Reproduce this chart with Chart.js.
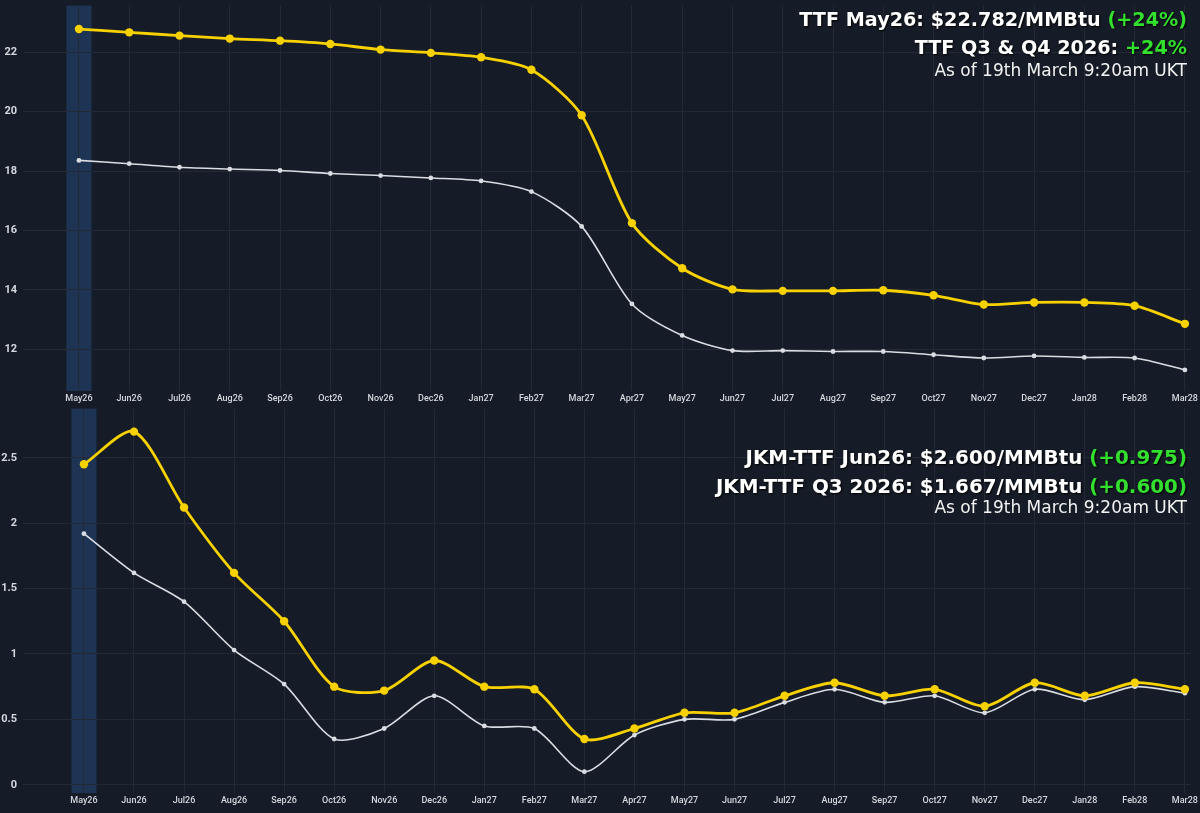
<!DOCTYPE html>
<html>
<head>
<meta charset="utf-8">
<script src="https://cdn.jsdelivr.net/npm/chart.js@4.4.1/dist/chart.umd.min.js"></script>
<style>
  html, body { margin: 0; padding: 0; background: #161c27; }
  #wrap { position: relative; width: 1200px; height: 813px; overflow: hidden; background: #161c27; }
  canvas { position: absolute; left: 0; }
  #c_ttf { top: -7px; }
  #c_spread { top: 396px; }
  .note { position: absolute; right: 13px; line-height: 1; white-space: nowrap; color: #fff;
          font-family: "DejaVu Sans", sans-serif; text-align: right; }
  .big { font-size: 19.2px; font-weight: bold; text-shadow: 1px 1px 2px #000; }
  .big2 { font-size: 19.9px; font-weight: bold; text-shadow: 1px 1px 2px #000; }
  .small { font-size: 17px; font-weight: normal; color: #f2f2f2; }
  .up { color: #33df2f; }
</style>
</head>
<body>
<div id="wrap">
  <canvas id="c_ttf" width="1200" height="412"></canvas>
  <canvas id="c_spread" width="1200" height="417"></canvas>

  <div class="note big" style="top:10px">TTF May26: $22.782/MMBtu <span class="up">(+24%)</span></div>
  <div class="note big" style="top:38px">TTF Q3 &amp; Q4 2026: <span class="up">+24%</span></div>
  <div class="note small" style="top:62px">As of 19th March 9:20am UKT</div>

  <div class="note big2" style="top:448px">JKM-TTF Jun26: $2.600/MMBtu <span class="up">(+0.975)</span></div>
  <div class="note big2" style="top:477px">JKM-TTF Q3 2026: $1.667/MMBtu <span class="up">(+0.600)</span></div>
  <div class="note small" style="top:499px">As of 19th March 9:20am UKT</div>
</div>

<script>
// contract months (x axis)
var meses = ["May26", "Jun26", "Jul26", "Aug26", "Sep26", "Oct26", "Nov26", "Dec26", "Jan27", "Feb27", "Mar27", "Apr27",
	"May27", "Jun27", "Jul27", "Aug27", "Sep27", "Oct27", "Nov27", "Dec27", "Jan28", "Feb28", "Mar28"];

// TTF curve, $/MMBtu: today (yellow) and previous (white)
var ttf_atual = [22.78, 22.67, 22.56, 22.46, 22.39, 22.28, 22.09, 21.98, 21.83, 21.41, 19.88, 16.25,
	14.73, 14.02, 13.97, 13.97, 13.99, 13.82, 13.51, 13.58, 13.58, 13.47, 12.86];
var ttf_anterior = [18.36, 18.25, 18.13, 18.07, 18.02, 17.92, 17.85, 17.77, 17.67, 17.31, 16.14, 13.53,
	12.47, 11.96, 11.96, 11.93, 11.93, 11.82, 11.71, 11.78, 11.73, 11.71, 11.31];

// JKM-TTF spread, $/MMBtu
var spread_atual = [2.45, 2.70, 2.12, 1.62, 1.25, 0.75, 0.72, 0.95, 0.75, 0.73, 0.35, 0.43,
	0.55, 0.55, 0.68, 0.78, 0.68, 0.73, 0.60, 0.78, 0.68, 0.78, 0.73];
var spread_anterior = [1.92, 1.62, 1.40, 1.03, 0.77, 0.35, 0.43, 0.68, 0.45, 0.43, 0.10, 0.38,
	0.50, 0.50, 0.63, 0.73, 0.63, 0.68, 0.55, 0.73, 0.65, 0.75, 0.70];

// y tick labels
var ticks_ttf = [12, 14, 16, 18, 20, 22];
var ticks_spread = [0, 0.5, 1, 1.5, 2, 2.5];

var cor_grade = "#232a36";
var cor_texto = "#d3d7de";

// highlight band behind the prompt month
var faixa = {
	id: "faixa",
	beforeDraw: function (chart) {
		var ctx = chart.ctx;
		var area = chart.chartArea;
		var x = chart.scales.x;
		var x0 = x.getPixelForValue(-0.25);
		var x1 = x.getPixelForValue(0.25);
		ctx.save();
		ctx.fillStyle = "#1e3455";
		ctx.fillRect(x0, area.top, x1 - x0, area.bottom - area.top);
		ctx.restore();
	},
};

function pontos(valores) {
	return valores.map(function (v, i) {
		return { x: i, y: v };
	});
}

function criarGrafico(id, atual, anterior, yMin, yMax, yTicks, xMin, padBottom) {
	return new Chart(document.getElementById(id), {
		type: "line",
		data: {
			datasets: [
				{
					data: pontos(atual),
					borderColor: "#f7d100",
					backgroundColor: "#f7d100",
					borderWidth: 2.8,
					pointRadius: 4.2,
					pointBorderWidth: 0,
					tension: 0.27,
				},
				{
					data: pontos(anterior),
					borderColor: "#d9dce3",
					backgroundColor: "#d9dce3",
					borderWidth: 1.6,
					pointRadius: 2.4,
					pointBorderWidth: 0,
					tension: 0.27,
				},
			],
		},
		options: {
			responsive: false,
			animation: false,
			devicePixelRatio: 1,
			layout: { padding: { top: 0, right: 8, bottom: padBottom, left: 0 } },
			scales: {
				x: {
					type: "linear",
					min: xMin,
					max: 22.12,
					afterBuildTicks: function (axis) {
						axis.ticks = meses.map(function (m, i) {
							return { value: i };
						});
					},
					afterFit: function (axis) {
						axis.height = 14;
					},
					grid: { color: cor_grade, drawTicks: false },
					border: { display: false },
					ticks: {
						autoSkip: false,
						maxRotation: 0,
						padding: 2,
						color: cor_texto,
						font: { family: "Roboto", size: 9, weight: "500" },
						callback: function (v) {
							return meses[v];
						},
					},
				},
				y: {
					min: yMin,
					max: yMax,
					afterBuildTicks: function (axis) {
						axis.ticks = yTicks.map(function (v) {
							return { value: v };
						});
					},
					afterFit: function (axis) {
						axis.width = 23;
					},
					grid: { color: cor_grade, drawTicks: false },
					border: { display: false },
					ticks: {
						padding: 6,
						color: cor_texto,
						font: { family: "Roboto", size: 11, weight: "bold" },
						callback: function (v) {
							return String(v);
						},
					},
				},
			},
			plugins: {
				legend: { display: false },
				tooltip: { enabled: false },
			},
		},
		plugins: [faixa],
	});
}

criarGrafico("c_ttf", ttf_atual, ttf_anterior, 10.6, 23.57, ticks_ttf, -1.113, 0);
criarGrafico("c_spread", spread_atual, spread_anterior, -0.063, 2.876, ticks_spread, -1.218, 6);
</script>
</body>
</html>
